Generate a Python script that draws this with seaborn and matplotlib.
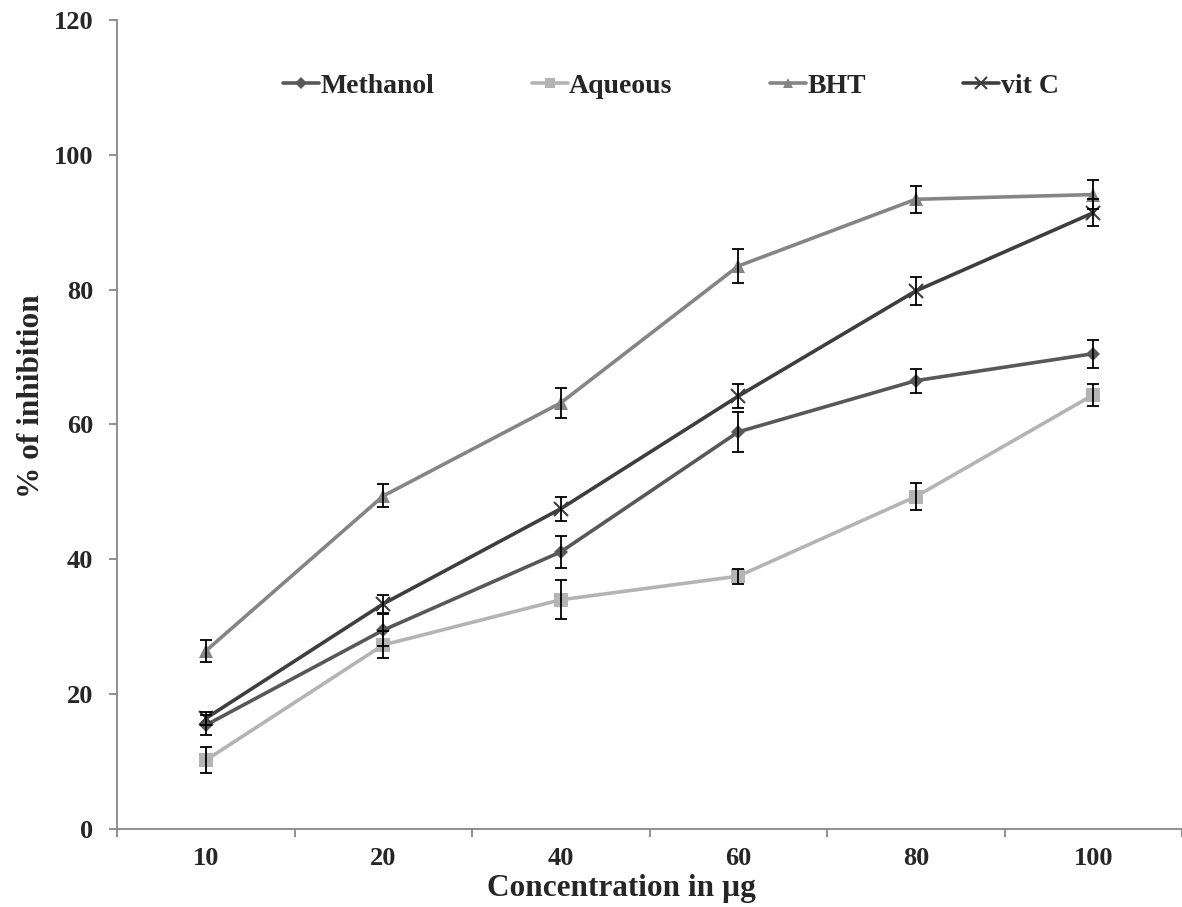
import matplotlib
matplotlib.use("Agg")
import matplotlib.pyplot as plt
import seaborn as sns
import pandas as pd
import numpy as np

concentrations = ["10", "20", "40", "60", "80", "100"]
series_names = ["Methanol", "Aqueous", "BHT", "vit C"]

methanol = [15.4, 29.5, 41.1, 58.9, 66.5, 70.5]
aqueous = [10.2, 27.3, 34.0, 37.5, 49.3, 64.4]
bht = [26.4, 49.4, 63.2, 83.5, 93.4, 94.1]
vitc = [16.4, 33.4, 47.5, 64.2, 79.8, 91.4]

methanol_err = [1.5, 2.4, 2.4, 3.0, 1.8, 2.1]
aqueous_err = [1.9, 2.0, 2.9, 1.1, 2.0, 1.6]
bht_err = [1.6, 1.7, 2.2, 2.5, 2.0, 2.2]
vitc_err = [1.0, 1.3, 1.8, 1.8, 2.1, 2.0]

values = {"Methanol": methanol, "Aqueous": aqueous, "BHT": bht, "vit C": vitc}
errors = {"Methanol": methanol_err, "Aqueous": aqueous_err, "BHT": bht_err, "vit C": vitc_err}
colors = {"Methanol": "#585858", "Aqueous": "#b4b4b4", "BHT": "#858585", "vit C": "#3e3e3e"}
markers = {"Methanol": "D", "Aqueous": "s", "BHT": "^", "vit C": "x"}
msizes = {"Methanol": 7.5, "Aqueous": 9.5, "BHT": 9.5, "vit C": 10.5}

# long table for seaborn
rows = []
for name in series_names:
    for i, (c, v) in enumerate(zip(concentrations, values[name])):
        rows.append({"pos": i, "Concentration": c, "Inhibition": v, "Extract": name})
df = pd.DataFrame(rows)

sns.set_style("white")
plt.rcParams["font.family"] = ["Liberation Serif", "DejaVu Serif"]
plt.rcParams["font.weight"] = "bold"

fig = plt.figure(figsize=(11.82, 9.07), dpi=100)
ax = fig.add_axes([0.099, 0.086, 0.901, 0.892])

for name in series_names:
    sub = df[df["Extract"] == name]
    sns.lineplot(x=sub["pos"].values, y=sub["Inhibition"].values, ax=ax, color=colors[name],
                 marker=markers[name], markersize=msizes[name],
                 markeredgecolor=colors[name], markeredgewidth=1.5 if name == "vit C" else 0,
                 linewidth=2.6, label=name, zorder=2)
    # error bars on top of the markers
    ax.errorbar(sub["pos"].values, sub["Inhibition"].values, yerr=errors[name], fmt="none",
                ecolor="black", elinewidth=1.3, capsize=4, capthick=1.3, zorder=3)

ax.set_xlim(-0.5, len(concentrations) - 0.5)
ax.set_ylim(0, 120)
ax.set_yticks(np.arange(0, 121, 20))
ax.set_xticks(np.arange(len(concentrations)))
ax.set_xticklabels(concentrations)
ax.set_xticks(np.arange(-0.5, len(concentrations), 1), minor=True)
ax.tick_params(axis="x", which="both", bottom=True)
ax.tick_params(axis="x", which="major", length=0, pad=13, labelsize=19)
ax.tick_params(axis="x", which="minor", length=6, color="#888888", width=1.3)
ax.tick_params(axis="y", left=True, length=6, color="#888888", width=1.3, labelsize=19, pad=11)

for s in ["top", "right"]:
    ax.spines[s].set_visible(False)
for s in ["left", "bottom"]:
    ax.spines[s].set_color("#888888")
    ax.spines[s].set_linewidth(1.3)

ax.set_xlabel("Concentration in µg", fontsize=22.5, fontweight="bold", labelpad=0)
ax.xaxis.set_label_coords(0.474, -0.056)
ax.set_ylabel("% of inhibition", fontsize=22.5, fontweight="bold")
ax.yaxis.set_label_coords(-0.067, 0.535)

ax.legend(loc="center", bbox_to_anchor=(0.52, 0.918), ncol=4, frameon=False,
          handlelength=1.3, columnspacing=3.5, handletextpad=0.05, markerscale=0.8,
          prop={"weight": "bold", "size": 20, "family": "Liberation Serif"})

fig.savefig("out.png", dpi=100)
